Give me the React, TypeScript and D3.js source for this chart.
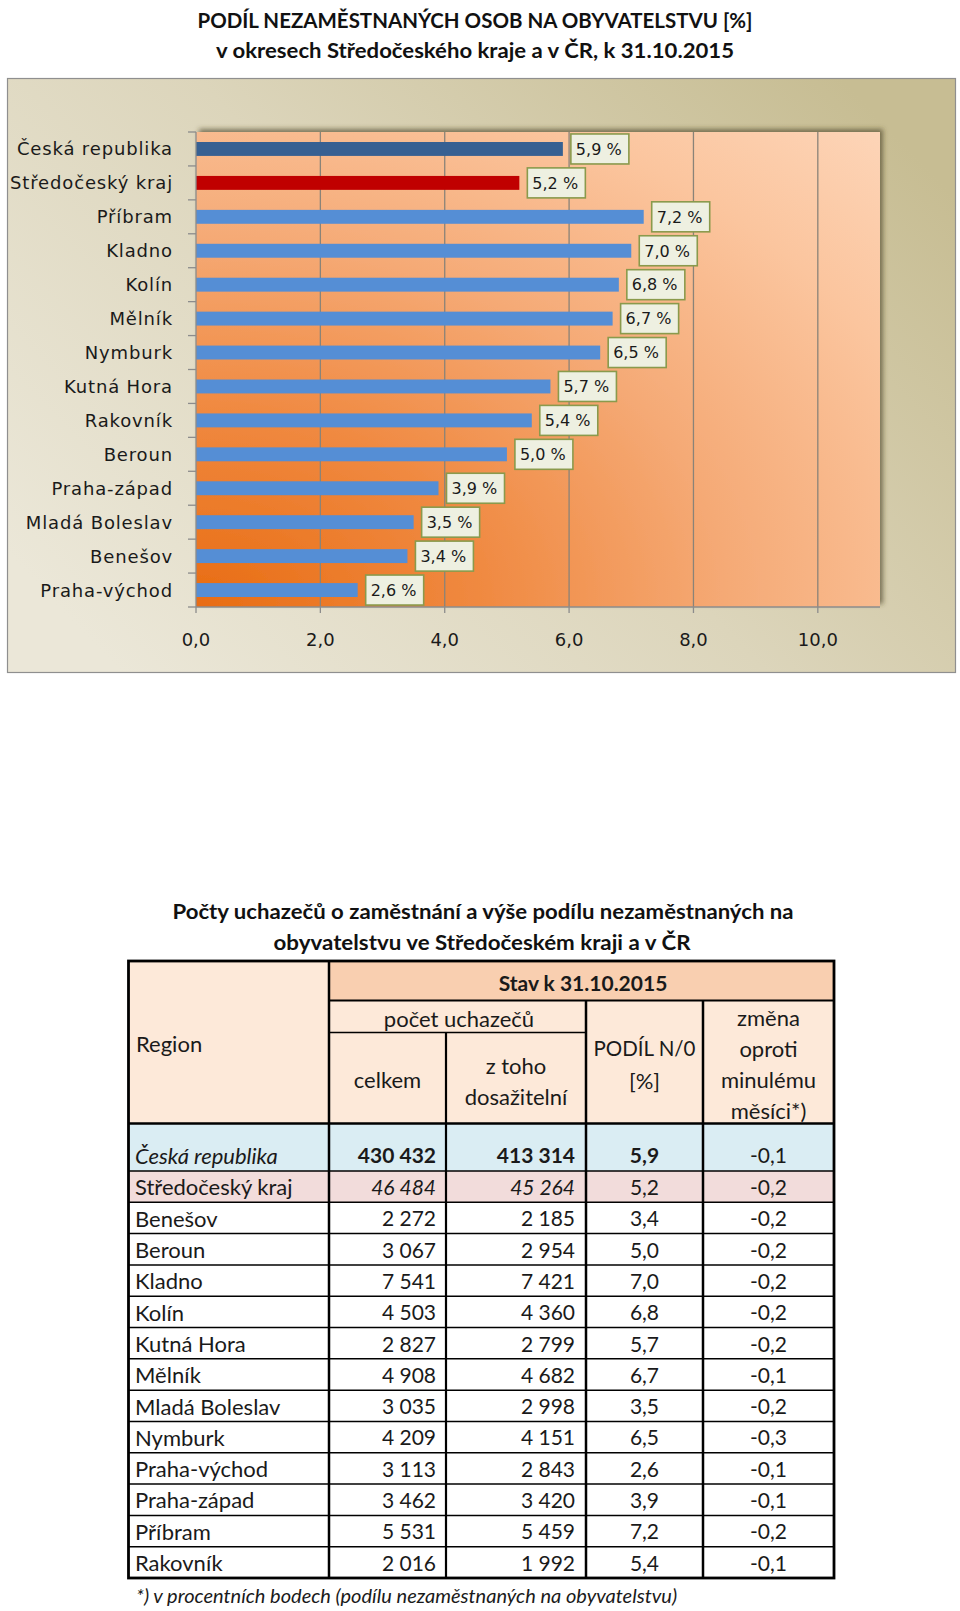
import React from 'react';
import * as d3 from 'd3';

// ---------- chart data ----------
const chartCategories = ['Česká republika', 'Středočeský kraj', 'Příbram', 'Kladno', 'Kolín', 'Mělník', 'Nymburk', 'Kutná Hora', 'Rakovník', 'Beroun', 'Praha-západ', 'Mladá Boleslav', 'Benešov', 'Praha-východ'];
const chartValues = [5.9, 5.2, 7.2, 7.0, 6.8, 6.7, 6.5, 5.7, 5.4, 5.0, 3.9, 3.5, 3.4, 2.6];
const xTicks = [0, 2, 4, 6, 8, 10];
const xMax = 11;

// ---------- table data ----------
const tableRegions = ['Česká republika', 'Středočeský kraj', 'Benešov', 'Beroun', 'Kladno', 'Kolín', 'Kutná Hora', 'Mělník', 'Mladá Boleslav', 'Nymburk', 'Praha-východ', 'Praha-západ', 'Příbram', 'Rakovník'];
const tableTotal = [430432, 46484, 2272, 3067, 7541, 4503, 2827, 4908, 3035, 4209, 3113, 3462, 5531, 2016];
const tableAvailable = [413314, 45264, 2185, 2954, 7421, 4360, 2799, 4682, 2998, 4151, 2843, 3420, 5459, 1992];
const tableShare = [5.9, 5.2, 3.4, 5.0, 7.0, 6.8, 5.7, 6.7, 3.5, 6.5, 2.6, 3.9, 7.2, 5.4];
const tableChange = [-0.1, -0.2, -0.2, -0.2, -0.2, -0.2, -0.2, -0.1, -0.2, -0.3, -0.1, -0.1, -0.2, -0.1];

const locale = d3.formatLocale({ decimal: ',', thousands: ' ', grouping: [3], currency: ['', ''], minus: '-' });
const fmtInt = locale.format(',d');
const fmt1 = locale.format('.1f');

const CHART_FONT = '"DejaVu Sans", Verdana, sans-serif';
const TAB_FONT = 'Lato, "Open Sans", sans-serif';
const TAB_SIZE = 22;

export default function App() {
  // chart geometry
  const plot = { left: 196, right: 880, top: 132, bottom: 607 };
  const x = d3.scaleLinear().domain([0, xMax]).range([plot.left, plot.right]);
  const y = d3.scaleBand<string>().domain(chartCategories).range([plot.top, plot.bottom]).paddingInner(0.59).paddingOuter(0.295);
  const step = y.step();
  const boundaries = d3.range(chartCategories.length + 1).map((i) => plot.top + i * step);

  const barColor = (i: number) => (i === 0 ? '#376092' : i === 1 ? '#c00000' : '#558ed5');

  // table geometry
  const colX = [128.5, 329, 446, 586, 703, 834];
  const tTop = 961;
  const stavBottom = 1000.5;
  const pocetBottom = 1032.5;
  const headBottom = 1123.5;
  const crBottom = 1171;
  const tBottom = 1578;
  const bodyRegions = tableRegions.slice(1);
  const rowY = d3.scaleBand<string>().domain(bodyRegions).range([crBottom, tBottom]);

  const rowFill = (i: number) => (i === 0 ? '#daedf3' : i === 1 ? '#f2dcdb' : '#ffffff');

  const rows = tableRegions.map((r, i) => {
    const top = i === 0 ? headBottom : (rowY(r) as number);
    const h = i === 0 ? crBottom - headBottom : rowY.bandwidth();
    const ty = i === 0 ? crBottom - 15 : top + h / 2 + 1;
    return { r, i, top, h, ty };
  });

  return (
    <svg width={960} height={1611} style={{ position: 'absolute', left: 0, top: 0, display: 'block', background: '#fff' }}>
      <defs>
        <linearGradient id="outerBg" x1="0" y1="0.8" x2="1" y2="0.2">
          <stop offset="0" stopColor="#ebe7d8" />
          <stop offset="0.5" stopColor="#dcd5bb" />
          <stop offset="1" stopColor="#c7bd93" />
        </linearGradient>
        <radialGradient id="plotBg" cx="0" cy="1" r="1.42" fx="0" fy="1">
          <stop offset="0" stopColor="#e86c12" />
          <stop offset="0.3" stopColor="#f08a42" />
          <stop offset="0.55" stopColor="#f5aa76" />
          <stop offset="0.8" stopColor="#fbc59e" />
          <stop offset="1" stopColor="#fdd5b8" />
        </radialGradient>
        <filter id="plotShadow" x="-5%" y="-5%" width="110%" height="110%">
          <feDropShadow dx="3" dy="-3" stdDeviation="2.5" floodColor="#4a4226" floodOpacity="0.65" />
        </filter>
      </defs>

      {/* chart title */}
      <text x={475} y={20.5} dy="0.35em" textAnchor="middle" fontFamily={TAB_FONT} fontWeight="bold" fontSize={20} fill="#111" textLength={555} lengthAdjust="spacingAndGlyphs">
        PODÍL NEZAMĚSTNANÝCH OSOB NA OBYVATELSTVU [%]
      </text>
      <text x={475} y={51.4} dy="0.35em" textAnchor="middle" fontFamily={TAB_FONT} fontWeight="bold" fontSize={20} fill="#111" textLength={518} lengthAdjust="spacingAndGlyphs">
        v okresech Středočeského kraje a v ČR, k 31.10.2015
      </text>

      {/* chart box */}
      <rect x={7.5} y={78.5} width={948} height={594} fill="url(#outerBg)" stroke="#8f8f8f" strokeWidth={1.2} />
      <rect x={plot.left} y={plot.top} width={plot.right - plot.left} height={plot.bottom - plot.top} fill="url(#plotBg)" filter="url(#plotShadow)" />

      {/* gridlines */}
      {xTicks.filter((t) => t > 0).map((t) => (
        <line key={'g' + t} x1={x(t)} x2={x(t)} y1={plot.top} y2={plot.bottom} stroke="#8a8378" strokeWidth={1.3} />
      ))}

      {/* bars */}
      {chartCategories.map((c, i) => (
        <rect key={'b' + c} x={x(0)} y={y(c)} width={x(chartValues[i]) - x(0)} height={y.bandwidth()} fill={barColor(i)} />
      ))}

      {/* axes */}
      <line x1={plot.left} x2={plot.left} y1={plot.top} y2={plot.bottom} stroke="#8c8c8c" strokeWidth={1.3} />
      <line x1={plot.left} x2={plot.right} y1={plot.bottom} y2={plot.bottom} stroke="#8c8c8c" strokeWidth={1.3} />
      {boundaries.map((b, i) => (
        <line key={'lt' + i} x1={plot.left - 8} x2={plot.left} y1={b} y2={b} stroke="#8c8c8c" strokeWidth={1.3} />
      ))}
      {xTicks.map((t) => (
        <line key={'bt' + t} x1={x(t)} x2={x(t)} y1={plot.bottom} y2={plot.bottom + 6} stroke="#8c8c8c" strokeWidth={1.3} />
      ))}
      {xTicks.map((t) => (
        <text key={'bl' + t} x={x(t)} y={640} dy="0.35em" textAnchor="middle" fontFamily={CHART_FONT} fontSize={18} fill="#1a1a1a">
          {fmt1(t)}
        </text>
      ))}
      {chartCategories.map((c) => (
        <text key={'cl' + c} x={173} y={(y(c) as number) + y.bandwidth() / 2} dy="0.36em" textAnchor="end" fontFamily={CHART_FONT} fontSize={18} letterSpacing={0.85} fill="#1a1a1a">
          {c}
        </text>
      ))}

      {/* data labels */}
      {chartCategories.map((c, i) => {
        const bx = x(chartValues[i]) + 8;
        const cy = (y(c) as number) + y.bandwidth() / 2;
        return (
          <g key={'dl' + c}>
            <rect x={bx} y={cy - 15} width={58} height={30} fill="#eef0e1" stroke="#8a9a4c" strokeWidth={1.6} />
            <text x={bx + 5} y={cy} dy="0.36em" fontFamily={CHART_FONT} fontSize={16} fill="#1a1a1a">
              {fmt1(chartValues[i])} %
            </text>
          </g>
        );
      })}

      {/* table title */}
      <text x={483} y={911.7} dy="0.35em" textAnchor="middle" fontFamily={TAB_FONT} fontWeight="bold" fontSize={20} fill="#111" textLength={621} lengthAdjust="spacingAndGlyphs">
        Počty uchazečů o zaměstnání a výše podílu nezaměstnaných na
      </text>
      <text x={482} y={942.5} dy="0.35em" textAnchor="middle" fontFamily={TAB_FONT} fontWeight="bold" fontSize={20} fill="#111" textLength={417} lengthAdjust="spacingAndGlyphs">
        obyvatelstvu ve Středočeském kraji a v ČR
      </text>

      {/* header cells */}
      <rect x={colX[0]} y={tTop} width={colX[1] - colX[0]} height={headBottom - tTop} fill="#fde9d9" />
      <rect x={colX[1]} y={tTop} width={colX[5] - colX[1]} height={stavBottom - tTop} fill="#f9cfb0" />
      <rect x={colX[1]} y={stavBottom} width={colX[5] - colX[1]} height={headBottom - stavBottom} fill="#fde9d9" />

      {/* body rows */}
      {rows.map((row) => (
        <rect key={'rf' + row.r} x={colX[0]} y={row.top} width={colX[5] - colX[0]} height={row.h} fill={rowFill(row.i)} />
      ))}

      {/* header texts */}
      <g fontFamily={TAB_FONT} fontSize={TAB_SIZE} fill="#1a1a1a">
        <text x={136} y={1044} dy="0.35em">Region</text>
        <text x={583} y={983.6} dy="0.35em" textAnchor="middle" fontWeight="bold" fontSize={21}>Stav k 31.10.2015</text>
        <text x={459} y={1019} dy="0.35em" textAnchor="middle">počet uchazečů</text>
        <text x={387.5} y={1080} dy="0.35em" textAnchor="middle">celkem</text>
        <text x={516} y={1066} dy="0.35em" textAnchor="middle">z toho</text>
        <text x={516} y={1097.5} dy="0.35em" textAnchor="middle">dosažitelní</text>
        <text x={644.5} y={1049} dy="0.35em" textAnchor="middle" fontSize={20.5}>PODÍL N/0</text>
        <text x={644.5} y={1081} dy="0.35em" textAnchor="middle">[%]</text>
        <text x={768.5} y={1018.5} dy="0.35em" textAnchor="middle">změna</text>
        <text x={768.5} y={1049} dy="0.35em" textAnchor="middle">oproti</text>
        <text x={768.5} y={1080} dy="0.35em" textAnchor="middle">minulému</text>
        <text x={768.5} y={1111} dy="0.35em" textAnchor="middle">měsíci*)</text>
      </g>

      {/* body texts */}
      <g fontFamily={TAB_FONT} fontSize={TAB_SIZE} fill="#1a1a1a">
        {rows.map((row) => {
          const i = row.i;
          return (
            <g key={'rt' + row.r}>
              <text x={135} y={row.ty} dy="0.35em" fontStyle={i === 0 ? 'italic' : 'normal'}>{row.r}</text>
              <text x={436} y={row.ty} dy="0.35em" textAnchor="end" fontSize={21} fontWeight={i === 0 ? 'bold' : 'normal'} fontStyle={i === 1 ? 'italic' : 'normal'}>{fmtInt(tableTotal[i])}</text>
              <text x={575} y={row.ty} dy="0.35em" textAnchor="end" fontSize={21} fontWeight={i === 0 ? 'bold' : 'normal'} fontStyle={i === 1 ? 'italic' : 'normal'}>{fmtInt(tableAvailable[i])}</text>
              <text x={644.5} y={row.ty} dy="0.35em" textAnchor="middle" fontSize={21} fontWeight={i === 0 ? 'bold' : 'normal'}>{fmt1(tableShare[i])}</text>
              <text x={768.5} y={row.ty} dy="0.35em" textAnchor="middle" fontSize={21}>{fmt1(tableChange[i])}</text>
            </g>
          );
        })}
      </g>

      {/* table lines */}
      <g stroke="#000" fill="none">
        {rows.slice(1).map((row) => (
          <line key={'rl' + row.r} x1={colX[0]} x2={colX[5]} y1={row.top} y2={row.top} strokeWidth={1.5} />
        ))}
        <line x1={colX[1]} x2={colX[3]} y1={pocetBottom} y2={pocetBottom} strokeWidth={1.3} />
        <line x1={colX[1]} x2={colX[5]} y1={stavBottom} y2={stavBottom} strokeWidth={2.2} />
        <line x1={colX[0]} x2={colX[5]} y1={headBottom} y2={headBottom} strokeWidth={2.5} />
        <line x1={colX[1]} x2={colX[1]} y1={tTop} y2={tBottom} strokeWidth={2.5} />
        <line x1={colX[2]} x2={colX[2]} y1={pocetBottom} y2={tBottom} strokeWidth={2.2} />
        <line x1={colX[3]} x2={colX[3]} y1={stavBottom} y2={tBottom} strokeWidth={2.5} />
        <line x1={colX[4]} x2={colX[4]} y1={stavBottom} y2={tBottom} strokeWidth={2.5} />
        <rect x={colX[0]} y={tTop} width={colX[5] - colX[0]} height={tBottom - tTop} strokeWidth={2.8} />
      </g>

      {/* footnote */}
      <text x={136} y={1596} dy="0.35em" fontFamily={TAB_FONT} fontStyle="italic" fontSize={20} fill="#1a1a1a">
        *) v procentních bodech (podílu nezaměstnaných na obyvatelstvu)
      </text>
    </svg>
  );
}
